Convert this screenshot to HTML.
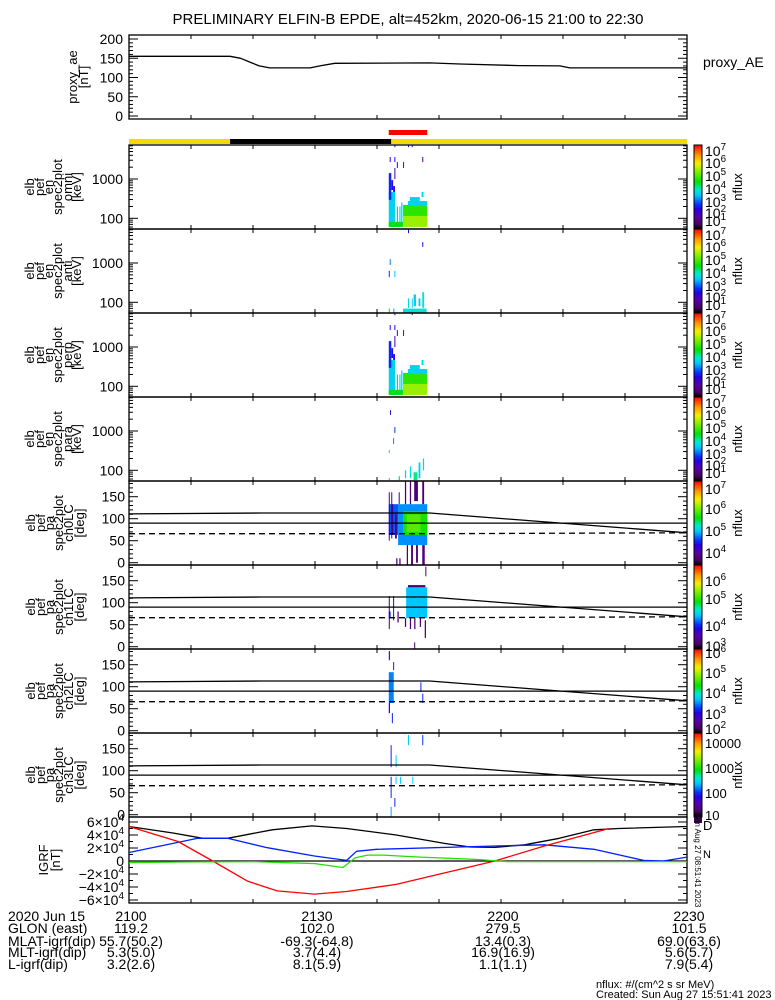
<!DOCTYPE html>
<html><head><meta charset="utf-8">
<style>
html,body{margin:0;padding:0;background:#fff;}
svg{display:block;font-family:"Liberation Sans","DejaVu Sans",sans-serif;}
text{fill:#000;}
</style></head>
<body>
<svg id="chart" xmlns="http://www.w3.org/2000/svg" width="775" height="1000" viewBox="0 0 775 1000">
<rect x="0" y="0" width="775" height="1000" fill="#fff"/>
<text x="408" y="24" font-size="15" text-anchor="middle">PRELIMINARY ELFIN-B EPDE, alt=452km, 2020-06-15 21:00 to 22:30</text>
<g id="g"></g>
</svg>
<script>
// ---------- data ----------
const aeTimes=[0,16.3,18,19.5,21,22.7,29.2,31,33.2,48.5,53.4,63,69.5,71.1,90];
const aeValues=[155,155,150,140,130,125,125,131,137,138,135,131,130,125,125];
const aeTicks=[0,50,100,150,200];

const orbitSegments=[[0,16.3,'#f8d800'],[16.3,42.3,'#000'],[42.3,90,'#f8d800']];
const conjunction=[41.9,48.1];

// spectrogram blocks: [tStart, tEnd, log10E lo, log10E hi, colour level 0..1]
const omniBlocks=[[41.9,42.9,1.78,2.67,0.42],[41.9,42.3,2.47,3.15,0.28],[42.3,42.6,2.72,2.97,0.25],[42.6,42.9,2.67,2.82,0.22],
[43.2,43.4,1.9,2.3,0.4],[43.6,43.8,1.9,2.3,0.45],[43.9,44.1,1.9,2.4,0.4],[41.9,44.2,1.78,1.91,0.55],
[44.2,48.1,1.91,2.34,0.6],[44.2,48.1,1.78,2.06,0.7],[45.0,48.1,2.31,2.44,0.42],[45.3,46.9,2.44,2.54,0.42],[47.2,47.5,2.54,2.67,0.42],
[42.05,42.2,3.43,3.56,0.25],[42.8,42.95,3.43,3.56,0.25],[43.2,43.35,3.28,3.43,0.25],[44.2,44.35,3.28,3.43,0.25],[42.8,42.95,3.0,3.28,0.2],
[47.3,47.45,3.43,3.56,0.1],[42.8,42.95,3.81,3.87,0.25],[45,45.15,3.81,3.87,0.2],[45.6,45.75,3.81,3.87,0.25]];
const antiBlocks=[[45,45.15,3.76,3.87,0.25],[47.3,47.45,3.41,3.53,0.25],[42.05,42.2,2.95,3.1,0.35],[41.9,42.05,2.64,2.8,0.28],[42.8,42.95,2.64,2.8,0.4],
[45.0,45.15,1.86,2.1,0.42],[45.6,45.75,1.86,2.1,0.42],[45.9,46.3,1.9,2.2,0.42],[46.7,47.0,1.9,2.1,0.42],[47.3,47.6,1.86,2.26,0.45],
[41.9,42.1,1.72,1.84,0.5],[42.6,42.8,1.72,1.84,0.5],[44.2,48.0,1.72,1.84,0.45]];
const perpBlocks=[[41.9,42.9,1.78,2.67,0.42],[41.9,42.3,2.47,3.15,0.28],[42.3,42.6,2.72,2.97,0.25],[42.6,42.9,2.67,2.82,0.22],
[43.2,43.4,1.9,2.3,0.4],[43.6,43.8,1.9,2.3,0.45],[43.9,44.1,1.9,2.4,0.4],[41.9,44.2,1.78,1.91,0.55],
[44.2,48.1,1.91,2.34,0.6],[44.2,48.1,1.78,2.06,0.7],[45.0,48.1,2.31,2.44,0.42],[45.3,46.9,2.44,2.54,0.42],[47.2,47.5,2.54,2.67,0.42],
[42.05,42.2,3.43,3.56,0.25],[42.8,42.95,3.43,3.56,0.25],[43.2,43.35,3.28,3.43,0.25],[44.2,44.35,3.28,3.43,0.25],[42.8,42.95,3.0,3.28,0.2],
[42.8,42.95,3.81,3.87,0.25],[45.6,45.75,3.81,3.87,0.25]];
const paraBlocks=[[42.1,42.25,3.41,3.53,0.25],[42.8,42.95,2.95,3.1,0.3],[42.6,42.75,2.67,2.82,0.35],[41.9,42.05,2.44,2.52,0.42],
[44.5,44.7,1.8,2.0,0.42],[45.3,45.5,1.8,2.1,0.45],[45.9,46.5,1.75,1.95,0.5],[46.7,47.0,1.8,2.2,0.42],[47.4,47.6,2.0,2.3,0.42],[43.5,43.7,1.75,1.85,0.42],[41.9,42.1,1.75,1.8,0.42]];

// pitch-angle blocks: [tStart, tEnd, degLo, degHi, level]
const ch0Blocks=[[43.4,48.1,40,133,0.36],[41.9,43.4,63,133,0.32],[44.2,48.1,63,117,0.58],[44.8,47.0,70,110,0.64],
[42.3,42.6,63,133,0.1],[42.9,43.2,55,110,0.1],[44.5,44.7,133,185,0.08],[45.3,45.5,133,185,0.08],[46.0,46.6,140,185,0.08],[47.3,47.6,133,185,0.08],
[41.9,42.05,50,160,0.1],[42.3,42.45,55,160,0.1],[43.5,43.65,133,160,0.1],[44.8,45.0,-5,40,0.08],[45.5,45.8,-5,40,0.08],[46.3,46.6,0,40,0.08],
[47.3,47.7,-5,40,0.1],[43.1,43.3,-5,10,0.08],[43.6,43.8,-5,10,0.08]];
const ch1Blocks=[[44.7,48.1,65,135,0.4],[41.9,42.2,65,80,0.28],[41.9,42.05,40,115,0.08],[42.6,42.75,60,115,0.08],[45.0,47.8,135,140,0.08],
[45.3,45.5,40,65,0.08],[46.0,46.2,40,65,0.08],[46.9,47.1,45,65,0.08],[47.7,47.9,20,60,0.08],[46.0,46.15,-15,10,0.08],[43.3,43.5,55,80,0.08],[44.5,44.7,45,65,0.08],[47.8,47.95,160,182,0.08]];
const ch2Blocks=[[41.9,42.1,160,181,0.28],[42.6,42.75,138,156,0.28],[41.9,42.7,63,133,0.35],[47.0,47.15,88,110,0.28],[47.3,47.45,63,84,0.28],[41.9,42.1,40,63,0.25],[42.4,42.55,17,40,0.28]];
const ch3Blocks=[[45.0,45.15,158,181,0.42],[47.3,47.45,158,181,0.3],[42.2,42.35,108,158,0.28],[43.0,43.15,108,135,0.42],[42.2,42.35,38,86,0.28],
[43.0,43.15,70,86,0.42],[43.7,43.85,70,86,0.42],[45.7,45.85,70,86,0.42],[42.8,42.95,18,38,0.28],[42.2,42.35,-5,18,0.38]];

// loss-cone lines
const lcTimes=[0,21.5,48.5,90];
const lcUpper=[111,113,113,68];
const lcDashed=[66,66,66,68];

// IGRF components (units of 1e4 nT)
const igrfBlackT=[0,7.1,11.9,15.9,23.1,29.5,35.1,43.1,51.0,55.0,59.0,63.8,69.4,75.0,79.0,90];
const igrfBlack=[5.3,4.3,3.5,3.5,4.8,5.4,5.0,4.0,2.7,2.15,2.1,2.5,3.5,4.8,5.0,5.3];
const igrfBlueT=[0,11.1,15.9,22.3,29.9,35.1,36.7,39.9,59,67,75,83,86.2,90];
const igrfBlue=[1.3,3.5,3.5,2.05,0.77,0.1,1.5,1.8,2.3,2.5,1.8,0.1,0,0.6];
const igrfRedT=[0,7.9,13.5,19.1,23.9,29.9,35.1,43.1,51.0,59.0,67.0,77.4];
const igrfRed=[5.3,3.0,0,-3.1,-4.6,-5.1,-4.7,-3.6,-1.8,0,2.3,5.0];
const igrfGreenT=[0,8,20,30,34.5,36.5,38.5,41,47,56,61,90];
const igrfGreen=[-0.25,-0.15,-0.1,-0.4,-1.0,0.5,0.9,0.9,0.6,0.25,-0.1,-0.1];

const timeLabels=['2100','2130','2200','2230'];
const glon=['119.2','102.0','279.5','101.5'];
const mlat=['55.7(50.2)','-69.3(-64.8)','13.4(0.3)','69.0(63.6)'];
const mlt=['5.3(5.0)','3.7(4.4)','16.9(16.9)','5.6(5.7)'];
const lval=['3.2(2.6)','8.1(5.9)','1.1(1.1)','7.9(5.4)'];

// ---------- helpers ----------
const NS='http://www.w3.org/2000/svg';
const G=document.getElementById('g');
const X0=129,X1=687,TMAX=90;
const tx=t=>X0+t*(X1-X0)/TMAX;
function mk(tag,attrs,parent){const e=document.createElementNS(NS,tag);for(const k in attrs)e.setAttribute(k,attrs[k]);(parent||G).appendChild(e);return e;}
const stops=[[0,[0,0,0]],[0.06,[70,0,100]],[0.14,[90,0,160]],[0.24,[40,0,230]],[0.3,[0,60,255]],[0.4,[0,200,255]],[0.47,[0,235,200]],[0.56,[0,225,0]],[0.7,[150,240,0]],[0.78,[245,240,0]],[0.88,[255,150,0]],[1,[255,0,0]]];
function cmap(v){v=Math.max(0,Math.min(1,v));for(let i=1;i<stops.length;i++){if(v<=stops[i][0]){const a=stops[i-1],b=stops[i],f=(v-a[0])/(b[0]-a[0]);const c=a[1].map((x,j)=>Math.round(x+(b[1][j]-x)*f));return `rgb(${c.join(',')})`;}}return 'rgb(255,0,0)';}
function txt(x,y,s,opt){const e=mk('text',Object.assign({x:x,y:y,'font-size':14},opt||{}));e.textContent=s;return e;}
function pow10(x,y,exp,size,anchor){const e=mk('text',{x:x,y:y,'font-size':size||14,'text-anchor':anchor||'start'});e.appendChild(document.createTextNode('10'));const s=document.createElementNS(NS,'tspan');s.setAttribute('dy','-6');s.setAttribute('font-size',(size||14)*0.7);s.textContent=exp;e.appendChild(s);return e;}
function box(top,bot){
  mk('rect',{x:X0,y:top,width:X1-X0,height:bot-top,fill:'none',stroke:'#000','stroke-width':1.3});
  for(let t=10;t<90;t+=10){const x=tx(t);mk('line',{x1:x,y1:top,x2:x,y2:top+4,stroke:'#000'});mk('line',{x1:x,y1:bot,x2:x,y2:bot-4,stroke:'#000'});}
}
function yTick(y,len){mk('line',{x1:X0,y1:y,x2:X0+len,y2:y,stroke:'#000'});mk('line',{x1:X1,y1:y,x2:X1-len,y2:y,stroke:'#000'});}
function leftTitle(lines,xs,cy){lines.forEach((s,i)=>{const e=mk('text',{x:0,y:0,'font-size':13,'text-anchor':'middle',transform:`translate(${xs[i]},${cy}) rotate(-90)`});e.textContent=s;});}
function poly(ts,vs,ymap,color,dash){const pts=ts.map((t,i)=>tx(t).toFixed(1)+','+ymap(vs[i]).toFixed(1)).join(' ');const p=mk('polyline',{points:pts,fill:'none',stroke:color,'stroke-width':1.3,'stroke-linejoin':'round'});if(dash)p.setAttribute('stroke-dasharray',dash);return p;}
function colorbar(top,bot,labels){
  const n=40,h=(bot-top)/n;
  for(let i=0;i<n;i++){mk('rect',{x:694,y:top+i*h,width:8,height:h+0.5,fill:cmap(1-(i+0.5)/n)});}
  mk('rect',{x:694,y:top,width:8,height:bot-top,fill:'none',stroke:'#000','stroke-width':1});
  labels.forEach(l=>{ if(l[2])txt(705,top+l[1]+5,l[0],{'font-size':13}); else pow10(705,top+l[1]+6,l[0],14);});
  const e=mk('text',{x:0,y:0,'font-size':13,'text-anchor':'middle',transform:`translate(${742},${(top+bot)/2}) rotate(-90)`});e.textContent='nflux';
  
}

// ---------- proxy AE ----------
const aeY=v=>116-v*0.385;
box(35,119);
for(let v=0;v<=200;v+=10)yTick(aeY(v),v%50===0?9:4);
aeTicks.forEach(v=>{const e=txt(123,aeY(v)+5,String(v),{'text-anchor':'end'});});
const aeLine=poly(aeTimes,aeValues,aeY,'#000');

leftTitle(['proxy_ae','[nT]'],[77,88],77);
txt(703,67,'proxy_AE',{'font-size':14});

// ---------- orbit bar ----------
orbitSegments.forEach(s=>{const r=mk('rect',{x:tx(s[0]),y:139,width:tx(s[1])-tx(s[0]),height:5,fill:s[2]});});
const cj=mk('rect',{x:tx(conjunction[0]),y:130,width:tx(conjunction[1])-tx(conjunction[0]),height:5,fill:'#f00'});


// ---------- energy spectrograms ----------
const specPanels=[[145,omniBlocks,'omni'],[229,antiBlocks,'anti'],[313,perpBlocks,'perp'],[397,paraBlocks,'para']];
const lab7=[['7',5],['6',17],['5',30],['4',43],['3',56],['2',67],['1',75]];
specPanels.forEach(p=>{
  const top=p[0],bot=top+84;
  const ey=le=>top+34-(le-3)*39.3;
  p[1].forEach(b=>{const y1=Math.max(top,ey(b[3])),y2=Math.min(bot,ey(b[2]));
    const r=mk('rect',{x:tx(b[0]),y:y1,width:Math.max(1,tx(b[1])-tx(b[0])),height:y2-y1,fill:cmap(b[4])});
    });
  box(top,bot);
  for(let d=1;d<=3;d++)for(let m=1;m<10;m++){const y=ey(d+Math.log10(m));if(y>top&&y<bot)yTick(y,m===1?9:4);}
  txt(123,ey(3)+5,'1000',{'text-anchor':'end'});txt(123,ey(2)+5,'100',{'text-anchor':'end'});
  leftTitle(['elb','pef','en','spec2plot',p[2],'[keV]'],[34,44,53,62,72,81],top+42);
  colorbar(top,bot,lab7);
});

// ---------- pitch-angle spectrograms ----------
const paPanels=[[481,ch0Blocks,'ch0LC',[['7',7],['6',27],['5',49],['4',71]]],[565,ch1Blocks,'ch1LC',[['6',15],['5',33],['4',60],['3',80]]],
[649,ch2Blocks,'ch2LC',[['6',3],['5',23],['4',43],['3',64],['2',79]]],[733,ch3Blocks,'ch3LC',[['10000',10,1],['1000',35,1],['100',60,1],['10',82,1]]]];
paPanels.forEach(p=>{
  const top=p[0],bot=top+84;
  const py=d=>bot-2.3-d*0.44;
  p[1].forEach(b=>{const y1=Math.max(top,py(b[3])),y2=Math.min(bot,py(b[2]));
    const r=mk('rect',{x:tx(b[0]),y:y1,width:Math.max(1,tx(b[1])-tx(b[0])),height:y2-y1,fill:cmap(b[4])});
    });
  box(top,bot);
  for(let d=0;d<=180;d+=10)yTick(py(d),d%50===0?9:4);
  [0,50,100,150].forEach(d=>txt(125,py(d)+5,String(d),{'text-anchor':'end'}));
  const u=poly(lcTimes,lcUpper,py,'#000');
  const m=mk('line',{x1:X0,y1:py(90),x2:X1,y2:py(90),stroke:'#000','stroke-width':1.3});
  const d=poly(lcTimes,lcDashed,py,'#000','6,4');
  leftTitle(['elb','pef','pa','spec2plot',p[2],'[deg]'],[35,45,54,63,73,84],top+42);
  colorbar(top,bot,p[3]);
});

// ---------- IGRF ----------
const gy=v=>861-v*6.5;
box(817,903);
for(let v=-6;v<=6;v+=1)yTick(gy(v),v%2===0?9:4);
[6,4,2,-2,-4,-6].forEach(v=>{const e=mk('text',{x:124,y:gy(v)+5,'font-size':14,'text-anchor':'end'});e.appendChild(document.createTextNode((v<0?'\u2212':'')+Math.abs(v)+'\u00d710'));const s=document.createElementNS(NS,'tspan');s.setAttribute('dy','-6');s.setAttribute('font-size','10');s.textContent='4';e.appendChild(s);});
txt(124,gy(0)+5,'0',{'text-anchor':'end'});
mk('line',{x1:X0,y1:gy(0),x2:X1,y2:gy(0),stroke:'#000','stroke-width':1.3});
const lb=poly(igrfBlackT,igrfBlack,gy,'#000');
const lbl=poly(igrfBlueT,igrfBlue,gy,'#0020ff');
const lr=poly(igrfRedT,igrfRed,gy,'#ff0000');
const lg=poly(igrfGreenT,igrfGreen,gy,'#20e000');
leftTitle(['IGRF','[nT]'],[48,60],860);
txt(703,830,'D',{'font-size':13}).setAttribute('fill','#f00');
const nn=txt(703,858,'N',{'font-size':11});nn.setAttribute('fill','#0040ff');
mk('rect',{x:694,y:817,width:8,height:6,fill:'#3a0050'});
const ts=mk('text',{x:0,y:0,'font-size':8,'text-anchor':'middle',transform:'translate(695,860) rotate(90)'});ts.textContent='Sun Aug 27 08:51:41 2023';

// ---------- footer ----------
const rowY=[921,933,946,957,969];
const rowLabels=['2020 Jun 15','GLON (east)','MLAT-igrf(dip)','MLT-igrf(dip)','L-igrf(dip)'];
const rowVals=[timeLabels,glon,mlat,mlt,lval];
const tickT=[0,30,60,90];
rowLabels.forEach((l,i)=>{const e=txt(8,rowY[i],l,{'font-size':14});
  rowVals[i].forEach((v,j)=>{const e2=txt(tx(tickT[j])+2,rowY[i],v,{'font-size':14,'text-anchor':'middle'});});});
txt(596,988,'nflux: #/(cm^2 s sr MeV)',{'font-size':11});
txt(596,998,'Created: Sun Aug 27 15:51:41 2023',{'font-size':11});
</script>
</body></html>
